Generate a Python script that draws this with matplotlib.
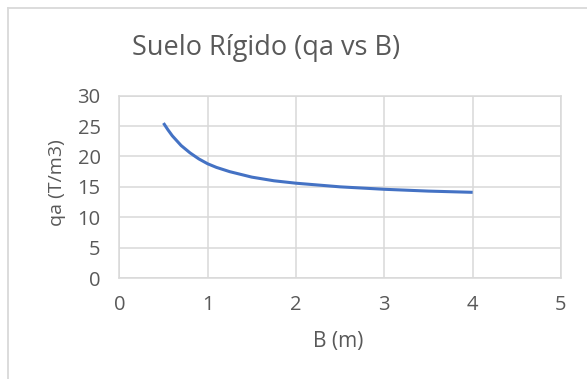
import matplotlib
matplotlib.use("Agg")
import matplotlib.pyplot as plt
from matplotlib.lines import Line2D

B = [0.5, 0.55, 0.6, 0.65, 0.7, 0.75, 0.8, 0.85, 0.9, 1.0, 1.1, 1.25, 1.5, 1.75, 2.0, 2.5, 3.0, 3.5, 4.0]
qa = [25.5, 24.4, 23.4, 22.6, 21.8, 21.2, 20.6, 20.1, 19.6, 18.8, 18.2, 17.5, 16.6, 16.0, 15.6, 15.0, 14.6, 14.3, 14.1]

title = "Suelo Rígido (qa vs B)"
xlabel = "B (m)"
ylabel = "qa (T/m3)"
xticks = [0, 1, 2, 3, 4, 5]
yticks = [0, 5, 10, 15, 20, 25, 30]

plt.rcParams['font.family'] = ['Open Sans', 'DejaVu Sans']
txt = '#595959'
grid = '#d9d9d9'

W, H = 587, 379
fig = plt.figure(figsize=(W / 100, H / 100), dpi=100)
ax = fig.add_axes([119.3 / W, 1 - 278 / H, (561 - 119.3) / W, (278 - 95.7) / H])

ax.plot(B, qa, color='#4472C4', lw=2.2, solid_capstyle='butt', solid_joinstyle='round')
ax.set_xlim(0, 5)
ax.set_ylim(0, 30)
ax.set_xticks(xticks)
ax.set_yticks(yticks)
ax.grid(True, color=grid, lw=1.1)
ax.set_axisbelow(True)
for s in ax.spines.values():
    s.set_color(grid)
    s.set_linewidth(1.1)
ax.tick_params(length=0, colors=txt, labelsize=14.5)
ax.tick_params(axis='y', pad=13.5)
ax.tick_params(axis='x', pad=12.5)

fig.text(266.5 / W, 1 - 48 / H, title, ha='center', va='center', fontsize=19.5, color=txt)
fig.text(338 / W, 1 - 342 / H, xlabel, ha='center', va='center', fontsize=15, color=txt)
fig.text(57 / W, 1 - 183 / H, ylabel, ha='center', va='center', fontsize=14, color=txt, rotation=90)

fig.add_artist(Line2D([8 / W, 8 / W], [0, 1 - 8 / H], transform=fig.transFigure, color=grid, lw=1.3))
fig.add_artist(Line2D([8 / W, 1], [1 - 8 / H, 1 - 8 / H], transform=fig.transFigure, color=grid, lw=1.3))

fig.savefig('out.png', dpi=100)
